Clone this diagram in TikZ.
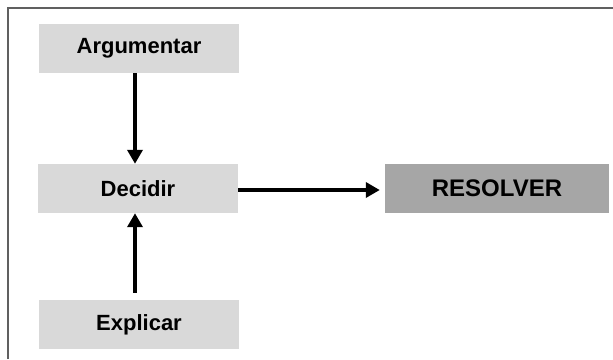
\documentclass[tikz,border=0pt]{standalone}
\usepackage{fontspec}
\setmainfont{Liberation Sans}
\usetikzlibrary{arrows.meta}
\definecolor{boxlight}{HTML}{D9D9D9}
\definecolor{boxdark}{HTML}{A6A6A6}
\definecolor{framegray}{HTML}{606060}
\tikzset{
  lightbox/.style={rectangle, fill=boxlight, draw=none, minimum width=200pt, minimum height=49pt, inner sep=0pt,
    font=\fontsize{22}{26}\selectfont\bfseries},
  darkbox/.style={rectangle, fill=boxdark, draw=none, minimum width=224pt, minimum height=49pt, inner sep=0pt,
    font=\fontsize{24}{28}\selectfont\bfseries},
  arr/.style={line width=3.5pt, -{Triangle[length=14pt,width=15pt]}},
  frameline/.style={draw=framegray, line width=2pt}
}
\begin{document}
\begin{tikzpicture}[x=1pt,y=-1pt]
\useasboundingbox (0,0) rectangle (613,359);
\fill[white] (0,0) rectangle (613,359);
\draw[frameline] (8,359) -- (8,8) -- (613,8);
\node[lightbox] (arg) at (139,48.5) {Argumentar};
\node[lightbox] (dec) at (138,188.5) {Decidir};
\node[lightbox] (exp) at (139,324.5) {Explicar};
\node[darkbox] (res) at (497,188.5) {RESOLVER};
\coordinate (exs) at ([xshift=-4pt,yshift=7pt]exp.north);
\draw[arr] ([xshift=-4pt]arg.south) -- ([xshift=-3pt]dec.north);
\draw[arr] (exs) -- ([xshift=-3pt]dec.south);
\draw[arr, shorten >=5pt] ([yshift=-1.5pt]dec.east) -- ([yshift=-1.5pt]res.west);
\end{tikzpicture}
\end{document}
